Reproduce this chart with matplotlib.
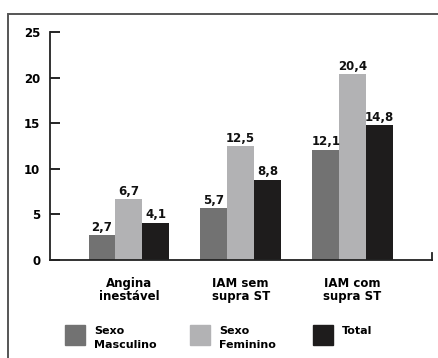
import matplotlib
matplotlib.use("Agg")
import matplotlib.pyplot as plt
import numpy as np
from matplotlib.patches import Rectangle

plt.rcParams['font.family'] = ['DejaVu Sans']
plt.rcParams['font.weight'] = 'bold'

categories = ["Angina\ninestável", "IAM sem\nsupra ST", "IAM com\nsupra ST"]
series_names = ["Sexo\nMasculino", "Sexo\nFeminino", "Total"]
masculino = [2.7, 5.7, 12.1]
feminino = [6.7, 12.5, 20.4]
total = [4.1, 8.8, 14.8]
yticks = [0, 5, 10, 15, 20, 25]

colors = ["#727272", "#b2b2b4", "#1e1c1c"]
W, H = 439, 358
fig = plt.figure(figsize=(W / 100, H / 100), dpi=100)
fig.patch.set_facecolor("white")

# outer frame
fig.patches.append(Rectangle((8 / W, -0.05), 1.1, 1 - 14 / H + 0.05,
                             transform=fig.transFigure, fill=False,
                             edgecolor="#555555", linewidth=1.4))

ax = fig.add_axes([50 / W, 1 - 260 / H, (432 - 50) / W, (260 - 32) / H])
x = np.arange(len(categories))
bw = 0.24
for i, (vals, c) in enumerate(zip([masculino, feminino, total], colors)):
    pos = x + (i - 1) * bw
    ax.bar(pos, vals, width=bw, color=c, edgecolor="none")
    for p, v in zip(pos, vals):
        ax.text(p, v + 0.15, f"{v:.1f}".replace(".", ","), ha="center",
                va="bottom", fontsize=8.5, fontweight="bold", color="#111111")

ax.set_xlim(-0.705, 2.71)
ax.set_ylim(0, 25)
ax.set_yticks(yticks)
ax.set_yticklabels([str(t) for t in yticks], fontsize=8.5, fontweight="bold")
ax.tick_params(axis="y", direction="in", length=7, width=1.2, pad=7)
ax.set_xticks(x)
ax.set_xticklabels(categories, fontsize=8.5, fontweight="bold", linespacing=1.05)
ax.tick_params(axis="x", length=0, pad=12)
for s in ["top", "right"]:
    ax.spines[s].set_visible(False)
for s in ["left", "bottom"]:
    ax.spines[s].set_linewidth(1.3)
    ax.spines[s].set_color("#222222")
ax.plot([1, 1], [0, 0.03], transform=ax.transAxes, color="#222222",
        lw=1.3, clip_on=False)

# legend
leg_x = [65, 190, 313]
for name, c, lx in zip(series_names, colors, leg_x):
    fig.patches.append(Rectangle((lx / W, 1 - 345 / H), 20 / W, 20 / H,
                                 transform=fig.transFigure, color=c))
    fig.text((lx + 29) / W, 1 - 326 / H, name, ha="left", va="top",
             fontsize=8, fontweight="bold", linespacing=1.55)

fig.savefig("out.png", dpi=100)
